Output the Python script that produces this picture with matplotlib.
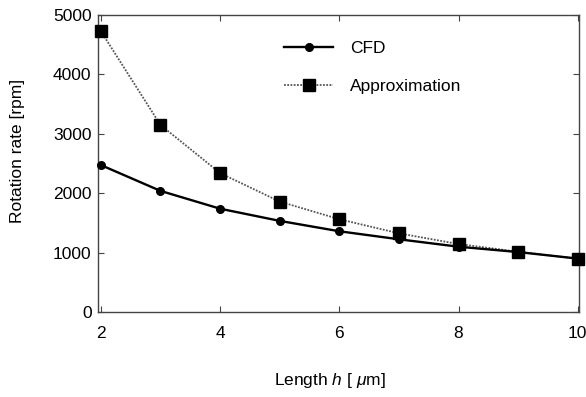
import matplotlib
matplotlib.use("Agg")
import matplotlib.pyplot as plt

plt.rcParams['font.family'] = ['Liberation Sans', 'DejaVu Sans']
plt.rcParams['mathtext.fontset'] = 'custom'
plt.rcParams['mathtext.rm'] = 'Liberation Sans'
plt.rcParams['mathtext.it'] = 'Liberation Sans:italic'

h = [2, 3, 4, 5, 6, 7, 8, 9, 10]
cfd = [2475, 2040, 1740, 1535, 1360, 1225, 1100, 1010, 900]
approx = [4730, 3150, 2340, 1860, 1563, 1325, 1145, 1015, 898]
xticks = [2, 4, 6, 8, 10]
yticks = [0, 1000, 2000, 3000, 4000, 5000]

fig = plt.figure(figsize=(5.86, 3.97), dpi=100)
ax = fig.add_axes([0.167, 0.214, 0.821, 0.748])

ax.plot(h, approx, color='#555555', linestyle=(0, (1, 0.8)), linewidth=1.3,
        marker='s', markersize=8, markerfacecolor='black', markeredgecolor='black',
        label='Approximation', clip_on=False, zorder=3)
ax.plot(h, cfd, color='black', linestyle='-', linewidth=1.7,
        marker='o', markersize=5.5, markerfacecolor='black', markeredgecolor='black',
        label='CFD', clip_on=False, zorder=4)

ax.set_xlim(1.95, 10.02)
ax.set_ylim(0, 5000)
ax.set_xticks(xticks)
ax.set_yticks(yticks)
ax.tick_params(direction='in', length=4, width=0.8, color='#444444',
               labelsize=12.5, top=True, right=True)
ax.tick_params(axis='x', pad=10)
ax.tick_params(axis='y', pad=4.5)
for s in ax.spines.values():
    s.set_color('#444444')
    s.set_linewidth(1.0)

ax.set_xlabel('Length $h$ [ $\\mu$m]', fontsize=12.5)
ax.xaxis.set_label_coords(0.482, -0.20)
ax.set_ylabel('Rotation rate [rpm]', fontsize=12.5)
ax.yaxis.set_label_coords(-0.152, 0.542)

handles, labels = ax.get_legend_handles_labels()
ax.legend([handles[1], handles[0]], [labels[1], labels[0]],
          loc='upper left', bbox_to_anchor=(0.355, 0.965), frameon=False,
          fontsize=12.5, handlelength=2.8, labelspacing=1.3, handletextpad=1.0,
          markerscale=1.0)

fig.savefig('out.png', dpi=100)
